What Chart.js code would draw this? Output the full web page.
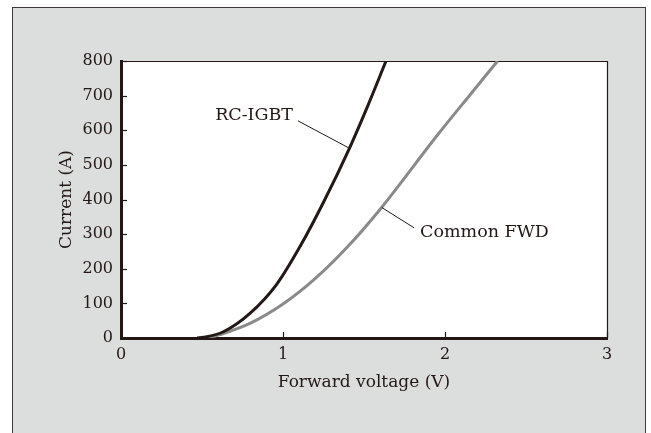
<!DOCTYPE html>
<html>
<head>
<meta charset="utf-8">
<script src="https://cdn.jsdelivr.net/npm/chart.js@4.4.1/dist/chart.umd.min.js"></script>
<style>
  html, body { margin: 0; padding: 0; background: #fff; }
</style>
</head>
<body>
<canvas id="chart_c" width="651" height="433"></canvas>
<script>
// forward voltage (V) / current (A)
const igbtVoltage = [0.47, 0.51, 0.632, 0.796, 0.961, 1.105, 1.25, 1.41, 1.52, 1.636]
const igbtCurrent = [0, 2, 18, 71, 155, 264, 392, 548, 667, 800]
const fwdVoltage = [0.53, 0.632, 0.796, 1.0, 1.2, 1.4, 1.6, 1.95, 2.154, 2.325]
const fwdCurrent = [0, 13, 42, 98, 172, 264, 372, 584, 702, 800]

const xTicks = [0, 1, 2, 3]
const yTicks = [0, 100, 200, 300, 400, 500, 600, 700, 800]

// callout labels: text, anchor, leader line start / end (data units)
const noteText = ['RC-IGBT', 'Common FWD']
const noteAlign = ['right', 'left']
const noteAt = [[1.062, 644], [1.846, 306]]
const leaderFrom = [[1.093, 627], [1.81, 318]]
const leaderTo = [[1.41, 548], [1.609, 377]]

const ink = '#231815'
const grey = '#8a8a8a'
const serif = "'DejaVu Serif', serif"

const toPoints = (xs, ys) => xs.map((v, i) => ({ x: v, y: ys[i] }))

const frame = {
  id: 'frame',
  beforeDraw: (chart) => {
    const { ctx, chartArea: a } = chart
    ctx.save()
    ctx.fillStyle = '#fff'
    ctx.fillRect(0, 0, chart.width, chart.height)
    ctx.fillStyle = '#dcdddd'
    ctx.fillRect(12, 7, 633, chart.height)
    ctx.strokeStyle = '#3e3a39'
    ctx.lineWidth = 1
    ctx.strokeRect(12.5, 7.5, 633, chart.height + 5)
    ctx.fillStyle = '#fff'
    ctx.fillRect(a.left, a.top, a.right - a.left, a.bottom - a.top)
    ctx.restore()
  },
  beforeDatasetsDraw: (chart) => {
    const { ctx, chartArea: a, scales: { x, y } } = chart
    ctx.save()
    ctx.strokeStyle = ink
    ctx.lineWidth = 1.2
    ctx.beginPath()
    ctx.moveTo(a.left, a.top + 0.5)
    ctx.lineTo(a.right + 0.5, a.top + 0.5)
    ctx.lineTo(a.right + 0.5, a.bottom)
    ctx.stroke()
    // inward tick marks
    x.ticks.forEach(t => {
      const px = Math.round(x.getPixelForValue(t.value)) + 0.5
      ctx.beginPath()
      ctx.moveTo(px, a.bottom)
      ctx.lineTo(px, a.bottom - 6)
      ctx.stroke()
    })
    y.ticks.forEach(t => {
      const py = Math.round(y.getPixelForValue(t.value)) + 0.5
      ctx.beginPath()
      ctx.moveTo(a.left, py)
      ctx.lineTo(a.left + 6, py)
      ctx.stroke()
    })
    ctx.restore()
  },
  afterDatasetsDraw: (chart) => {
    const { ctx, scales: { x, y } } = chart
    ctx.save()
    ctx.fillStyle = ink
    ctx.strokeStyle = ink
    ctx.lineWidth = 1
    ctx.font = '17.5px ' + serif
    ctx.textBaseline = 'middle'
    noteText.forEach((txt, i) => {
      ctx.textAlign = noteAlign[i]
      ctx.fillText(txt, x.getPixelForValue(noteAt[i][0]), y.getPixelForValue(noteAt[i][1]))
      ctx.beginPath()
      ctx.moveTo(x.getPixelForValue(leaderFrom[i][0]), y.getPixelForValue(leaderFrom[i][1]))
      ctx.lineTo(x.getPixelForValue(leaderTo[i][0]), y.getPixelForValue(leaderTo[i][1]))
      ctx.stroke()
    })
    ctx.restore()
  }
}

new Chart(document.getElementById('chart_c'), {
  type: 'line',
  data: {
    datasets: [
      {
        label: 'RC-IGBT',
        data: toPoints(igbtVoltage, igbtCurrent),
        borderColor: ink,
        borderWidth: 3,
        pointRadius: 0,
        cubicInterpolationMode: 'monotone'
      },
      {
        label: 'Common FWD',
        data: toPoints(fwdVoltage, fwdCurrent),
        borderColor: grey,
        borderWidth: 3,
        pointRadius: 0,
        cubicInterpolationMode: 'monotone'
      }
    ]
  },
  options: {
    responsive: false,
    animation: false,
    devicePixelRatio: 1,
    layout: { padding: { left: 56, top: 61, right: 44, bottom: 40 } },
    plugins: { legend: { display: false }, tooltip: { enabled: false } },
    scales: {
      x: {
        type: 'linear',
        min: 0, max: 3,
        afterBuildTicks: (s) => { s.ticks = xTicks.map(v => ({ value: v })) },
        afterFit: (s) => { s.height = 55 },
        ticks: { color: ink, font: { family: serif, size: 16 }, padding: 7, maxRotation: 0 },
        grid: { drawOnChartArea: false, drawTicks: false },
        border: { color: ink, width: 3 },
        title: { display: true, text: 'Forward voltage (V)', color: ink, font: { family: serif, size: 17 }, padding: 0 }
      },
      y: {
        min: 0, max: 800,
        afterBuildTicks: (s) => { s.ticks = yTicks.map(v => ({ value: v })) },
        afterFit: (s) => { s.width = 65 },
        ticks: { color: ink, font: { family: serif, size: 16 }, padding: 8 },
        grid: { drawOnChartArea: false, drawTicks: false },
        border: { color: ink, width: 3 },
        title: { display: true, text: 'Current (A)', color: ink, font: { family: serif, size: 17 }, padding: 0 }
      }
    }
  },
  plugins: [frame]
})
</script>
</body>
</html>
